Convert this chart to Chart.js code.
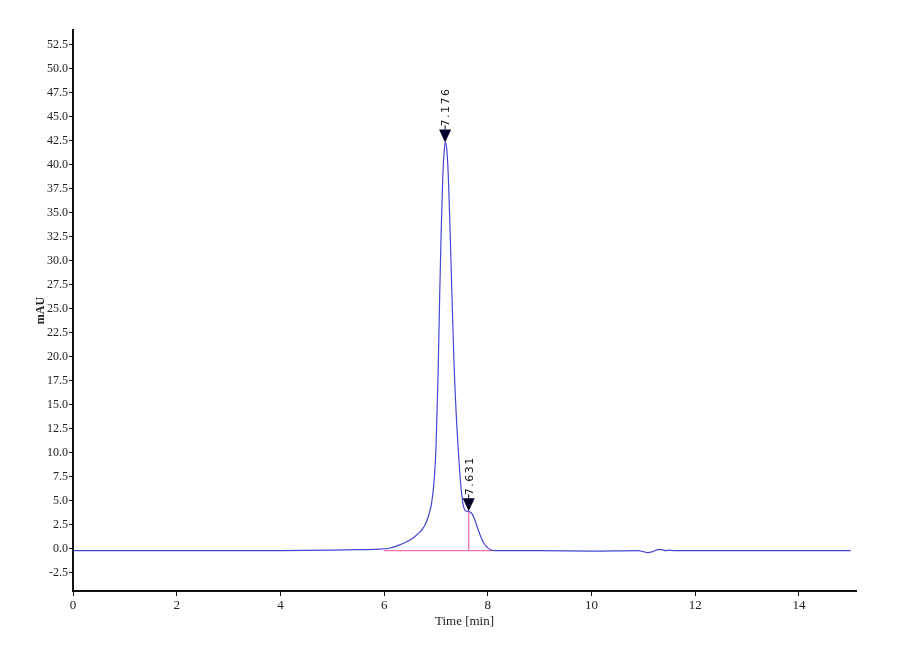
<!DOCTYPE html>
<html>
<head>
	<title>Chromatogram</title>
	<script src="https://cdn.jsdelivr.net/npm/chart.js@4"></script>
<style>
	body { margin: 0; background: #fff; }
	#wrap { width: 900px; height: 660px; }
</style>
</head>
<body>
<div id="wrap">
	<canvas id="plot"></canvas>
</div>

<script lang="text/javascript">
// signal trace (time in min, absorbance in mAU)
var times = [0, 1, 2, 3, 4, 5, 5.5, 5.9, 6.1, 6.3, 6.5, 6.6, 6.7, 6.78, 6.85, 6.92, 6.97, 7.0,
	7.04, 7.07, 7.1, 7.13, 7.16, 7.18, 7.21, 7.24, 7.27, 7.31, 7.35, 7.4, 7.44, 7.48, 7.52,
	7.56, 7.6, 7.65, 7.7, 7.75, 7.8, 7.86, 7.92, 7.98, 8.05, 8.15, 9, 10, 10.9, 11.0, 11.08,
	11.18, 11.28, 11.35, 11.42, 11.5, 11.6, 12, 13, 14, 15];
var signal = [-0.2, -0.2, -0.2, -0.2, -0.2, -0.15, -0.1, -0.05, 0.05, 0.4, 0.9, 1.3, 1.8, 2.4, 3.3, 4.9, 7.5, 10.5,
	18, 26, 33, 38.5, 41.5, 42.3, 41.5, 38.5, 33.5, 26, 19, 13, 9.5, 6.5, 4.7,
	4.0, 3.9, 3.85, 3.6, 3.0, 2.2, 1.3, 0.6, 0.2, -0.1, -0.2, -0.2, -0.25, -0.2, -0.3, -0.4,
	-0.3, -0.1, -0.1, -0.2, -0.15, -0.2, -0.2, -0.2, -0.2, -0.2];

// integration baseline and drop line
var baseTimes = [6.0, 8.08];
var baseValues = [-0.2, -0.2];
var dropTimes = [7.631, 7.631];
var dropValues = [-0.2, 3.9];

// peak marks
var peakTimes = [7.176, 7.631];
var peakHeights = [42.3, 3.9];
var peakLabels = ['7.176', '7.631'];

var xTicks = [0, 2, 4, 6, 8, 10, 12, 14];
var yTicks = [-2.5, 0, 2.5, 5, 7.5, 10, 12.5, 15, 17.5, 20, 22.5, 25, 27.5, 30, 32.5, 35, 37.5,
	40, 42.5, 45, 47.5, 50, 52.5];

function pairs(xs, ys) {
	var out = [];
	for (var i = 0; i < xs.length; i++)
		out.push({ x : xs[i], y : ys[i] });
	return out;
}

var peakMarks = {
	id : 'peakMarks',
	afterDatasetsDraw : function(chart) {
		var ctx = chart.ctx;
		var xs = chart.scales.x;
		var ys = chart.scales.y;
		ctx.save();
		for (var i = 0; i < peakTimes.length; i++) {
			var px = xs.getPixelForValue(peakTimes[i]);
			var py = ys.getPixelForValue(peakHeights[i]);
			// downward arrow head, tip on the peak
			ctx.fillStyle = '#000028';
			ctx.beginPath();
			ctx.moveTo(px, py);
			ctx.lineTo(px - 6, py - 13);
			ctx.lineTo(px + 6, py - 13);
			ctx.closePath();
			ctx.fill();
			ctx.strokeStyle = '#000028';
			ctx.lineWidth = 1;
			ctx.beginPath();
			ctx.moveTo(px, py - 13);
			ctx.lineTo(px, py - 17);
			ctx.stroke();
			// rotated retention time
			ctx.save();
			ctx.translate(px + 1, py - 16);
			ctx.rotate(-Math.PI / 2);
			ctx.font = '11px "DejaVu Sans"';
			ctx.letterSpacing = '1.5px';
			ctx.fillStyle = '#111';
			ctx.textAlign = 'left';
			ctx.textBaseline = 'middle';
			ctx.fillText(peakLabels[i], 0, 0);
			ctx.restore();
		}
		ctx.restore();
	}
};

var ctx = document.getElementById('plot');
var chart = new Chart(ctx, {
	type : 'scatter',
	data : {
		datasets : [{
			data : pairs(baseTimes, baseValues),
			showLine : true,
			borderColor : '#f070b0',
			borderWidth : 1.3,
			pointRadius : 0,
			order : 2
		}, {
			data : pairs(dropTimes, dropValues),
			showLine : true,
			borderColor : '#f070b0',
			borderWidth : 1.3,
			pointRadius : 0,
			order : 2
		}, {
			data : pairs(times, signal),
			showLine : true,
			borderColor : '#4646d2',
			borderWidth : 1.2,
			pointRadius : 0,
			cubicInterpolationMode : 'monotone',
			order : 1
		}]
	},
	options : {
		responsive : true,
		maintainAspectRatio : false,
		animation : false,
		layout : {
			padding : { left : 34, top : 30, right : 44, bottom : 27 }
		},
		plugins : {
			legend : { display : false },
			tooltip : { enabled : false }
		},
		scales : {
			x : {
				type : 'linear',
				min : 0,
				max : 15.1,
				afterBuildTicks : function(axis) {
					axis.ticks = xTicks.map(function(v) { return { value : v }; });
				},
				afterFit : function(axis) { axis.height = 42; },
				border : { display : true, color : '#111', width : 2 },
				grid : { drawOnChartArea : false, drawTicks : true, tickLength : 5, color : '#111' },
				ticks : {
					color : '#222',
					padding : 2,
					maxRotation : 0,
					font : { family : '"Liberation Serif"', size : 13 },
					callback : function(v) { return v; }
				},
				title : {
					display : true,
					text : 'Time [min]',
					color : '#222',
					padding : { top : 2 },
					font : { family : '"Liberation Serif"', size : 13 }
				}
			},
			y : {
				type : 'linear',
				min : -4.4,
				max : 54,
				afterBuildTicks : function(axis) {
					axis.ticks = yTicks.map(function(v) { return { value : v }; });
				},
				afterFit : function(axis) { axis.width = 39; },
				border : { display : true, color : '#111', width : 2 },
				grid : { drawOnChartArea : false, drawTicks : true, tickLength : 4, color : '#111' },
				ticks : {
					color : '#222',
					padding : 1,
					font : { family : '"Liberation Serif"', size : 12 },
					callback : function(v) { return v.toFixed(1); }
				},
				title : {
					display : true,
					text : 'mAU',
					color : '#222',
					padding : 0,
					font : { family : '"Liberation Serif"', size : 12, weight : 'bold' }
				}
			}
		}
	},
	plugins : [peakMarks]
});
</script>
</body>
</html>
